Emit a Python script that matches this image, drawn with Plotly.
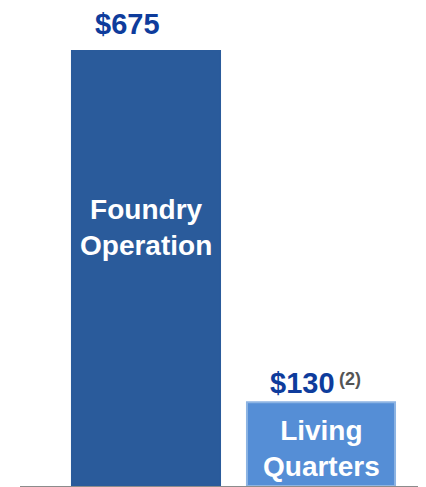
import plotly.graph_objects as go

categories = ["Foundry Operation", "Living Quarters"]
values = [675, 130]
value_labels = ["$675", "$130"]
inner_labels = ["Foundry<br>Operation", "Living<br>Quarters"]
footnotes = ["", "(2)"]

bar_colors = ["#2A5B9B", "#558ED6"]
border_colors = ["#2A5B9B", "#8DB4E3"]

x_idx = list(range(len(categories)))

fig = go.Figure()
fig.add_trace(go.Bar(
    x=x_idx, y=values, width=0.846,
    marker=dict(color=bar_colors, line=dict(color=border_colors, width=2)),
    hoverinfo="skip",
))

FONT = "Liberation Sans, Arial, sans-serif"
inner_shift = [-177, -46]
label_shift = [27, 19]
for i, v in enumerate(values):
    fig.add_annotation(x=i, y=v, text=f"<b>{value_labels[i]}</b>", showarrow=False,
                       xanchor="center", yanchor="middle", xshift=-19, yshift=label_shift[i],
                       font=dict(family=FONT, size=29, color="#0E3C9C"))
    fig.add_annotation(x=i, y=v, text=f"<b>{inner_labels[i]}</b>", showarrow=False,
                       xanchor="center", yanchor="middle", yshift=inner_shift[i],
                       font=dict(family=FONT, size=28, color="white"))
    if footnotes[i]:
        fig.add_annotation(x=i, y=v, text=f"<b>{footnotes[i]}</b>", showarrow=False,
                           xanchor="center", yanchor="middle", xshift=29, yshift=23,
                           font=dict(family=FONT, size=18, color="#555555"))

# page body has an 8px default margin, so the figure is sized to fit the window
fig.update_layout(
    width=418, height=479,
    margin=dict(l=12, r=0, t=0, b=1),
    paper_bgcolor="white", plot_bgcolor="white",
    showlegend=False,
    xaxis=dict(range=[-0.72, 1.6], showticklabels=False, showgrid=False, zeroline=False,
               showline=True, linecolor="#8C8C8C", linewidth=2, ticks=""),
    yaxis=dict(range=[0, 741.7], visible=False, showgrid=False),
)

fig.write_html("out.html")
